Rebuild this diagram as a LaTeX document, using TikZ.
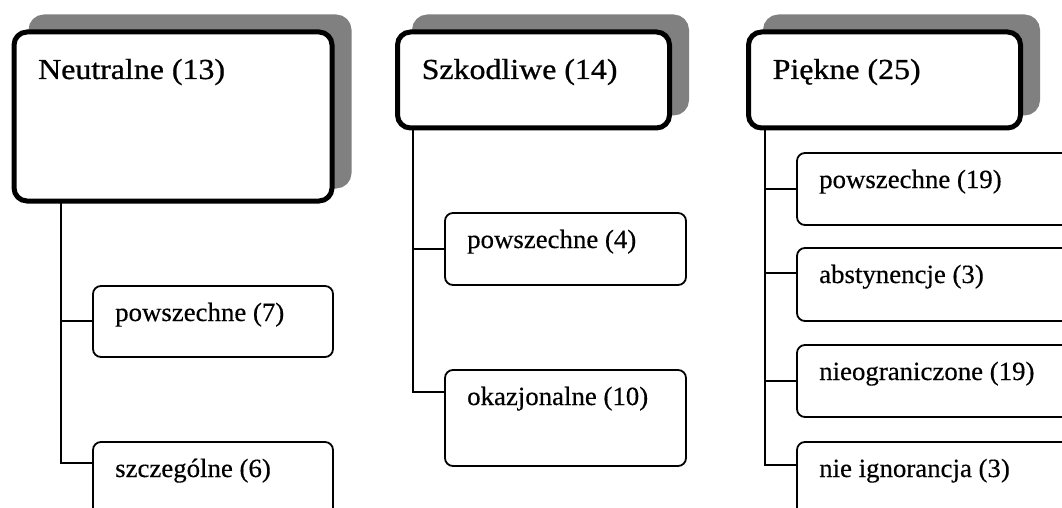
\documentclass[tikz,border=0pt]{standalone}
\usepackage{fontspec}
\setmainfont{Liberation Serif}
\newfontfamily\headfont{Liberation Serif}[FakeStretch=1.1, FakeBold=0.8]
\newfontfamily\itemfont{Liberation Serif}[FakeStretch=1.02, FakeBold=0.4]
\usetikzlibrary{shadows,calc}
\definecolor{shadowgray}{HTML}{808080}
\tikzset{
  headbox/.style={draw=black, line width=5pt, rounded corners=13pt, fill=white,
    anchor=north west, inner sep=0pt, outer sep=0pt,
    general shadow={fill=shadowgray, draw=shadowgray, line width=5pt,
      shadow xshift=17pt, shadow yshift=15pt}},
  leafbox/.style={draw=black, line width=1.8pt, rounded corners=8pt, fill=white,
    anchor=north west, inner sep=0pt, outer sep=0pt},
  headtext/.style={anchor=base west, inner sep=0pt, font=\headfont\fontsize{29}{34}\selectfont},
  leaftext/.style={anchor=base west, inner sep=0pt, font=\itemfont\fontsize{26.3}{31}\selectfont},
  conn/.style={draw=black, line width=1.8pt},
}
\begin{document}
\begin{tikzpicture}[x=1pt, y=-1pt]
\useasboundingbox (0,0) rectangle (1062,508);
\clip (0,0) rectangle (1062,508);

% ---- group headings
\node[headbox, minimum width=318pt, minimum height=169pt] (h1) at (14,32) {};
\node[headbox, minimum width=272pt, minimum height=96pt] (h2) at (397.5,32) {};
\node[headbox, minimum width=272pt, minimum height=96pt] (h3) at (748.5,32) {};
\foreach \h/\txt in {h1/Neutralne (13), h2/Szkodliwe (14), h3/Piękne (25)}
  \node[headtext] (\h t) at ($(\h.north west)+(24,47)$) {\txt};

% ---- items
\node[leafbox, minimum width=240pt, minimum height=71pt] (n1) at (93,286) {};
\node[leafbox, minimum width=240pt, minimum height=90pt] (n2) at (93,442) {};
\node[leafbox, minimum width=241pt, minimum height=72pt] (n3) at (445,213) {};
\node[leafbox, minimum width=241pt, minimum height=96pt] (n4) at (445,370) {};
\node[leafbox, minimum width=290pt, minimum height=72pt] (n5) at (797,153) {};
\node[leafbox, minimum width=290pt, minimum height=73pt] (n6) at (797,248) {};
\node[leafbox, minimum width=290pt, minimum height=72pt] (n7) at (797,345) {};
\node[leafbox, minimum width=290pt, minimum height=90pt] (n8) at (797,442) {};

\foreach \n/\txt in {n1/powszechne (7), n2/szczególne (6), n3/powszechne (4),
    n4/okazjonalne (10), n5/powszechne (19), n6/abstynencje (3),
    n7/nieograniczone (19), n8/nie ignorancja (3)}
  \node[leaftext] (\n t) at ($(\n.north west)+(22,35)$) {\txt};

% ---- attachment points on the items
\coordinate (c1) at ($(n1.north west)+(0,35)$);
\coordinate (c2) at ($(n2.north west)+(0,21)$);
\coordinate (c3) at ($(n3.north west)+(0,36)$);
\coordinate (c4) at ($(n4.north west)+(0,22)$);
\coordinate (c5) at ($(n5.north west)+(0,36)$);
\coordinate (c6) at ($(n6.north west)+(0,25)$);
\coordinate (c7) at ($(n7.north west)+(0,36)$);
\coordinate (c8) at ($(n8.north west)+(0,23)$);

% ---- spines
\coordinate (s1) at (61,0);
\coordinate (s2) at (413,0);
\coordinate (s3) at (765,0);

\draw[conn] (h1.south -| s1) |- (c2);
\draw[conn] (s1 |- c1) -- (c1);
\draw[conn] (h2.south -| s2) |- (c4);
\draw[conn] (s2 |- c3) -- (c3);
\draw[conn] (h3.south -| s3) |- (c8);
\draw[conn] (s3 |- c5) -- (c5);
\draw[conn] (s3 |- c6) -- (c6);
\draw[conn] (s3 |- c7) -- (c7);
\end{tikzpicture}
\end{document}
